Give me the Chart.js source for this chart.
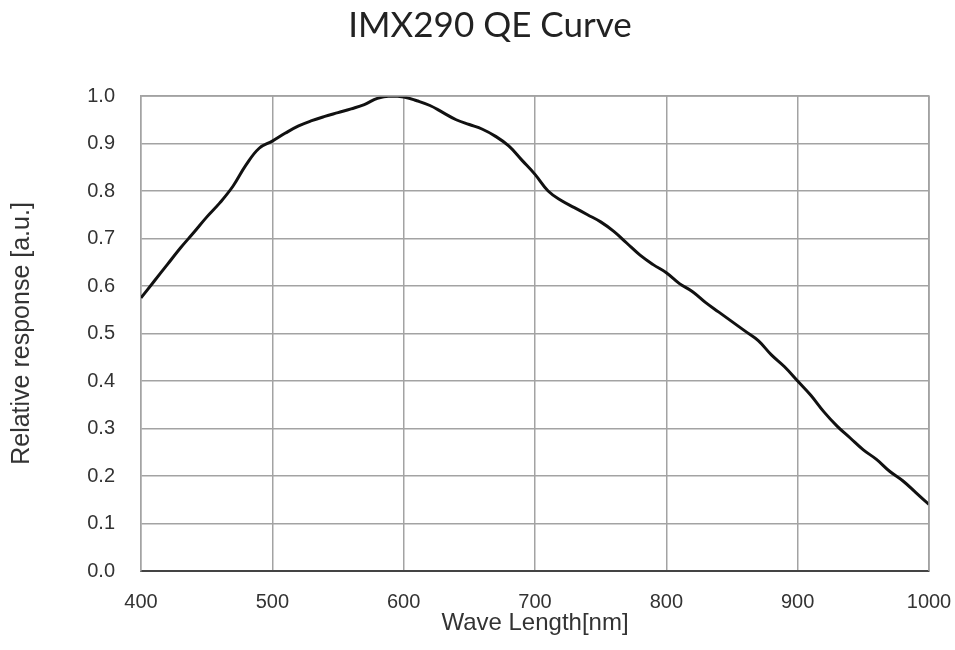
<!DOCTYPE html>
<html>
<head>
<meta charset="utf-8">
<title>IMX290 QE Curve</title>
<script src="https://cdn.jsdelivr.net/npm/chart.js@4"></script>
<style>
  html, body { margin: 0; padding: 0; background: #fff; }
  #wrap { width: 955px; height: 650px; }
</style>
</head>
<body>
<div id="wrap"><canvas id="qeChart" width="955" height="650"></canvas></div>
<script>
// wavelength in nm, every 10 nm
const waveLength = [
  400, 410, 420, 430, 440, 450, 460, 470, 480, 490,
  500, 510, 520, 530, 540, 550, 560, 570, 580, 590,
  600, 610, 620, 630, 640, 650, 660, 670, 680, 690,
  700, 710, 720, 730, 740, 750, 760, 770, 780, 790,
  800, 810, 820, 830, 840, 850, 860, 870, 880, 890,
  900, 910, 920, 930, 940, 950, 960, 970, 980, 990, 1000
];
// relative response [a.u.]
const response = [
  0.575, 0.61, 0.645, 0.68, 0.712, 0.745, 0.775, 0.81, 0.855, 0.89,
  0.905, 0.922, 0.937, 0.948, 0.957, 0.965, 0.973, 0.982, 0.995, 1.0,
  0.998, 0.99, 0.98, 0.965, 0.95, 0.94, 0.93, 0.915, 0.895, 0.865,
  0.835, 0.80, 0.78, 0.765, 0.75, 0.735, 0.715, 0.69, 0.665, 0.645,
  0.628, 0.605, 0.588, 0.565, 0.545, 0.525, 0.505, 0.485, 0.455, 0.43,
  0.40, 0.37, 0.335, 0.305, 0.28, 0.255, 0.235, 0.21, 0.19, 0.165, 0.14
];

const chartTitle = "IMX290 QE Curve";
const gridGrey = "#a3a3a3";

new Chart(document.getElementById("qeChart"), {
  type: "line",
  data: {
    datasets: [
      {
        label: "IMX290",
        data: waveLength.map((w, i) => ({ x: w, y: response[i] })),
        borderColor: "#111",
        borderWidth: 3,
        pointRadius: 0,
        tension: 0.4,
        fill: false
      }
    ]
  },
  options: {
    responsive: false,
    animation: false,
    layout: { padding: { left: 0, right: 26, top: 96, bottom: 0 } },
    plugins: {
      legend: { display: false },
      tooltip: { enabled: false },
      title: { display: false }
    },
    scales: {
      x: {
        type: "linear",
        min: 400,
        max: 1000,
        afterFit: s => { s.height = 79; s.paddingLeft = 0; s.paddingRight = 0; },
        ticks: {
          stepSize: 100,
          padding: 19,
          color: "#333",
          font: { family: "Liberation Sans", size: 20 },
          callback: v => String(v)
        },
        grid: { color: gridGrey, lineWidth: 1.5, drawTicks: false },
        border: { color: "#444", width: 2 },
        title: {
          display: true,
          text: "Wave Length[nm]",
          color: "#333",
          font: { family: "Liberation Sans", size: 24 },
          padding: { top: 0, bottom: 12 }
        }
      },
      y: {
        min: 0,
        max: 1,
        afterFit: s => { s.width = 141; },
        ticks: {
          stepSize: 0.1,
          padding: 26,
          color: "#333",
          font: { family: "Liberation Sans", size: 20 },
          callback: v => v.toFixed(1)
        },
        grid: { color: gridGrey, lineWidth: 1.5, drawTicks: false },
        border: { color: gridGrey, width: 1.5 },
        title: {
          display: true,
          text: "Relative response [a.u.]",
          color: "#333",
          font: { family: "Liberation Sans", size: 25 },
          padding: { top: 7, bottom: 0 }
        }
      }
    }
  },
  plugins: [
    {
      // grey frame on top/right edges plus the page title
      id: "frameAndTitle",
      afterDraw(chart) {
        const { ctx, chartArea: a } = chart;
        ctx.save();
        ctx.strokeStyle = gridGrey;
        ctx.lineWidth = 1.5;
        ctx.beginPath();
        ctx.moveTo(a.left, a.top);
        ctx.lineTo(a.right, a.top);
        ctx.lineTo(a.right, a.bottom);
        ctx.stroke();

        ctx.fillStyle = "#222";
        ctx.font = "35px Lato";
        ctx.textAlign = "center";
        ctx.textBaseline = "middle";
        ctx.fillText(chartTitle, 490, 26);
        ctx.restore();
      }
    }
  ]
});
</script>
</body>
</html>
